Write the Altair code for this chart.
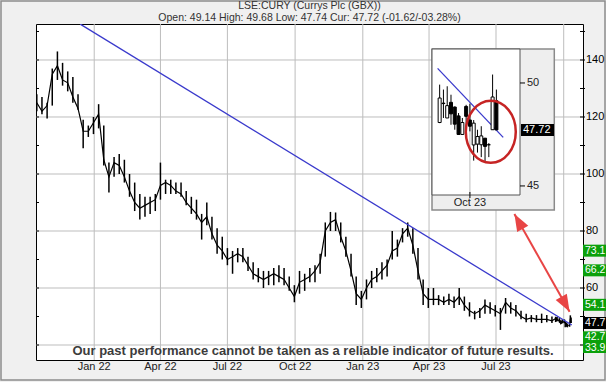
import altair as alt
import pandas as pd

W, H = 547, 336

# ---------------- data ----------------
week_dates = pd.date_range("2021-10-15", periods=101, freq="7D").strftime("%Y-%m-%d").tolist()
week_high = [128, 127, 125, 137, 143, 139, 136, 134, 128, 119,
             117, 120, 124.5, 117, 104, 106, 107, 105, 100, 97,
             93, 92, 92, 93, 104, 98, 98, 97, 97, 94,
             92, 91, 86, 90, 85, 81, 78, 74, 73, 74,
             74, 71, 69, 67, 66, 66, 67, 68, 67, 64,
             61, 66, 65, 67, 68, 72, 83, 86.7, 86.5, 83,
             78, 72, 64, 59, 63, 66, 67, 69, 70, 80,
             77, 81, 83, 81, 74, 63, 60, 60, 57.5, 57,
             58, 57, 60, 57, 55, 52, 53, 56, 55, 54,
             53, 56.5, 55, 54, 52, 51, 50.5, 50.5, 51, 50.5,
             50]
week_low = [122, 121, 119.5, 124, 133, 131, 129, 125, 122.5, 109,
            113, 114, 116, 103, 93.5, 99, 100, 97, 92, 87,
            84, 85, 86, 87, 91, 93, 93, 93, 92, 89,
            86, 84, 77, 82, 77, 72, 70, 68, 65, 69,
            69, 66, 63, 62, 60, 61, 61, 62, 61, 59,
            55, 58, 59, 62, 62, 65, 71, 80, 80, 76,
            71, 64, 54, 53, 56, 60, 62, 63, 64, 70,
            71, 76, 78, 72, 63, 54, 53, 54, 54, 54,
            54, 53, 54, 52, 50, 49, 49.5, 51, 51, 50,
            45.3, 51, 51, 50, 49, 48, 48, 48, 47.7, 48,
            47.7]
week_close = [125, 122, 124, 135, 138, 133, 132, 127, 123, 115,
              115, 118, 121, 105, 99, 104, 103, 99, 94, 90,
              88, 89, 90, 91, 96, 97, 96, 94, 93, 90,
              88, 86, 83, 85, 79, 75, 73, 70, 71, 72,
              71, 68, 65, 64, 63, 64, 65, 64, 63, 60,
              57, 62, 63, 64, 66, 69, 80, 83, 84, 78,
              73, 66, 58, 56, 60, 63, 64, 66, 68, 73,
              74, 79, 81, 75, 66, 58, 56, 56, 56, 55,
              56, 55, 57, 54, 52, 51, 52, 54, 53, 52,
              51, 55, 53, 52, 50, 49, 49.5, 49, 49, 49,
              48.5]

day_dates = ["2023-09-20", "2023-09-21", "2023-09-22", "2023-09-25", "2023-09-26",
             "2023-09-27", "2023-09-28", "2023-09-29", "2023-10-02", "2023-10-03",
             "2023-10-04", "2023-10-05", "2023-10-06", "2023-10-09", "2023-10-10",
             "2023-10-11"]
day_open = [48.08, 49.0, 48.3, 49.06, 48.83, 48.4, 47.5, 48.86, 48.2, 46.99,
            47.03, 47.0, 47.32, 47.0, 47.73, 49.14]
day_high = [49.92, 49.68, 49.84, 49.43, 48.86, 48.54, 48.3, 48.94, 48.99, 48.2,
            47.73, 47.9, 47.32, 47.08, 50.41, 49.68]
day_low = [48.05, 48.3, 48.3, 47.97, 47.73, 47.48, 47.48, 47.65, 47.65, 46.23,
           46.62, 46.4, 46.2, 46.4, 47.73, 47.74]
day_close = [49.27, 49.02, 48.9, 48.5, 48.0, 47.5, 48.08, 48.38, 47.9, 48.05,
             47.4, 47.43, 46.92, 47.0, 49.32, 47.72]

trend_dates = ["2021-12-13", "2023-10-12"]
trend_values = [152.6, 47.0]

inset_trend_idx = [-0.54, 16.8]
inset_trend_values = [50.71, 47.36]
inset_circle_idx = [13.52]
inset_circle_value = [47.63]

grid_dates = ["2022-01-01", "2022-04-01", "2022-07-01", "2022-10-01",
              "2023-01-01", "2023-04-01", "2023-07-01", "2023-10-01"]
month_dates = grid_dates[:7]
month_labels = ["Jan 22", "Apr 22", "Jul 22", "Oct 22", "Jan 23", "Apr 23", "Jul 23"]
grid_values = [40, 60, 80, 100, 120, 140]
axis_label_values = [60, 80, 100, 120, 140]
tick_values = [40, 50, 60, 70, 80, 90, 100, 110, 120, 130, 140, 150]

level_values = [73.1, 66.2, 54.1, 42.7]
level_texts = ["73.1", "66.2", "54.1", "42.7"]
current_value = [47.72]
current_text_main = ["47.7"]
current_text_inset = ["47.72"]
bottom_level_text = ["33.9"]

arrow_dates = ["2023-07-26", "2023-10-09"]
arrow_values = [85.96, 51.68]
arrow_angles = [330.7, 150.7]

inset_tick_values = [50, 45]
inset_tick_texts = ["50", "45"]

title_text = "LSE:CURY (Currys Plc (GBX))"
subtitle_text = "Open: 49.14 High: 49.68 Low: 47.74 Cur: 47.72 (-01.62/-03.28%)"
disclaimer_text = "Our past performance cannot be taken as a reliable indicator of future results."

# ---------------- tables ----------------
price_df = pd.DataFrame({
    "date": week_dates + day_dates,
    "high": week_high + day_high,
    "low": week_low + day_low,
    "close": week_close + day_close,
})
candles_df = pd.DataFrame({
    "i": list(range(len(day_dates))),
    "open": day_open, "high": day_high, "low": day_low, "close": day_close,
})

def ms(s):
    return int(pd.Timestamp(s).value // 10**6)

xs = alt.Scale(type="utc", domain=[ms("2021-10-13T21:40:00Z"), ms("2023-10-27T05:00:00Z")])
ys = alt.Scale(domain=[34.74, 152.63], nice=False, zero=False)
one = pd.DataFrame({"a": [0]})

FONT = "Liberation Sans"
GRID = "#bdbdbd"
GREEN = "#0ba00b"

def X(field):
    return alt.X(field, type="temporal", scale=xs, axis=None)

def Y(field):
    return alt.Y(field, type="quantitative", scale=ys, axis=None)

vgrid = alt.Chart(pd.DataFrame({"d": grid_dates})).mark_rule(color=GRID, strokeWidth=1).encode(x=X("d"))
hgrid = alt.Chart(pd.DataFrame({"v": grid_values})).mark_rule(color=GRID, strokeWidth=1).encode(y=Y("v"))
lticks = alt.Chart(pd.DataFrame({"v": tick_values})).mark_rule(color="#000").encode(
    y=Y("v"), x=alt.value(0), x2=alt.value(3))
rticks = alt.Chart(pd.DataFrame({"v": tick_values})).mark_rule(color="#000").encode(
    y=Y("v"), x=alt.value(W - 3), x2=alt.value(W + 2))
rlabels = alt.Chart(pd.DataFrame({"v": axis_label_values})).mark_text(
    align="left", baseline="middle", font=FONT, fontSize=11, color="#000").encode(
    y=Y("v"), x=alt.value(W + 3), text=alt.Text("v:Q"))

bars = alt.Chart(price_df).mark_rule(color="#000", strokeWidth=1.5).encode(
    x=X("date"), y=Y("low"), y2="high")
closes = alt.Chart(price_df).mark_line(color="#000", strokeWidth=1.2).encode(
    x=X("date"), y=Y("close"))
trend = alt.Chart(pd.DataFrame({"d": trend_dates, "v": trend_values})).mark_line(
    color="#3a3acc", strokeWidth=1.3, clip=True).encode(x=X("d"), y=Y("v"))

lvl_df = pd.DataFrame({"v": level_values, "t": level_texts})
lvl_box = alt.Chart(lvl_df).mark_rect(color=GREEN, yOffset=-6, y2Offset=6).encode(
    y=Y("v"), y2="v", x=alt.value(W), x2=alt.value(W + 30))
lvl_txt = alt.Chart(lvl_df).mark_text(align="left", baseline="middle", font=FONT,
                                      fontSize=10.5, color="white").encode(
    y=Y("v"), x=alt.value(W + 2), text="t:N")
cur_df = pd.DataFrame({"v": current_value, "t": current_text_main})
cur_box = alt.Chart(cur_df).mark_rect(color="#000", yOffset=-6, y2Offset=6).encode(
    y=Y("v"), y2="v", x=alt.value(W), x2=alt.value(W + 30))
cur_txt = alt.Chart(cur_df).mark_text(align="left", baseline="middle", font=FONT,
                                      fontSize=10.5, color="white").encode(
    y=Y("v"), x=alt.value(W + 2), text="t:N")
bot_box = alt.Chart(one).mark_rect(color=GREEN).encode(
    y=alt.value(H - 18), y2=alt.value(H - 7), x=alt.value(W), x2=alt.value(W + 30))
bot_txt = alt.Chart(pd.DataFrame({"t": bottom_level_text})).mark_text(
    align="left", baseline="middle", font=FONT, fontSize=10.5, color="white").encode(
    y=alt.value(H - 12), x=alt.value(W + 2), text="t:N")

months = alt.Chart(pd.DataFrame({"d": month_dates, "t": month_labels})).mark_text(
    baseline="middle", font=FONT, fontSize=11, color="#222").encode(
    x=X("d"), y=alt.value(H + 7), text="t:N")

header = alt.Chart(pd.DataFrame({"t": [title_text, subtitle_text], "yy": [-18, -6]})).mark_text(
    baseline="middle", font=FONT, fontSize=10.5, color="#333").encode(
    x=alt.value(273.5), y=alt.Y("yy:Q", scale=None, axis=None), text="t:N")

disclaimer = alt.Chart(pd.DataFrame({"t": [disclaimer_text]})).mark_text(
    baseline="middle", font=FONT, fontSize=13, fontWeight="bold", color="#3c3c3c").encode(
    x=alt.value(277), y=alt.value(327), text="t:N")

arrow_df = pd.DataFrame({"d": arrow_dates, "v": arrow_values, "ang": arrow_angles})
arrow_line = alt.Chart(arrow_df).mark_line(color="#e84545", strokeWidth=2).encode(
    x=X("d"), y=Y("v"))
arrow_heads = alt.Chart(arrow_df).mark_point(
    shape="M0,0 L0.75,2 L-0.75,2 Z", filled=True, color="#e84545", opacity=1, size=289).encode(
    x=X("d"), y=Y("v"), angle=alt.Angle("ang:Q", scale=None))

border = alt.Chart(one).mark_rect(fill=None, stroke="#8c8c8c", strokeWidth=1.5).encode(
    x=alt.value(-35), x2=alt.value(W + 22), y=alt.value(-23), y2=alt.value(H + 20))

main = alt.layer(border, vgrid, hgrid, lticks, rticks, rlabels, bars, closes, trend,
                 lvl_box, lvl_txt, cur_box, cur_txt, bot_box, bot_txt, months, header,
                 disclaimer)

# ---------------- inset ----------------
ixs = alt.Scale(domain=[-0.70, 19.92], range=[396, 484], nice=False, zero=False)
iys = alt.Scale(domain=[44.56, 51.65], range=[171, 25], nice=False, zero=False)

def IX(field):
    return alt.X(field, type="quantitative", scale=ixs, axis=None)

def IY(field):
    return alt.Y(field, type="quantitative", scale=iys, axis=None)

panel = alt.Chart(one).mark_rect(fill="#eeeeee", stroke="#8a8a8a", strokeWidth=1.5).encode(
    x=alt.value(396), x2=alt.value(518.3), y=alt.value(25), y2=alt.value(186))
white = alt.Chart(one).mark_rect(fill="white", stroke="#555", strokeWidth=1).encode(
    x=alt.value(396), x2=alt.value(484), y=alt.value(25), y2=alt.value(171))
igrid = alt.Chart(pd.DataFrame({"i": [8]})).mark_rule(color=GRID).encode(
    x=IX("i"), y=alt.value(25), y2=alt.value(171))
itick_b = alt.Chart(pd.DataFrame({"i": [8]})).mark_rule(color="#000").encode(
    x=IX("i"), y=alt.value(168), y2=alt.value(174))
ilabel_b = alt.Chart(pd.DataFrame({"i": [8], "t": ["Oct 23"]})).mark_text(
    baseline="middle", font=FONT, fontSize=11, color="#222").encode(
    x=IX("i"), y=alt.value(178.7), text="t:N")
itr = alt.Chart(pd.DataFrame({"i": inset_trend_idx, "v": inset_trend_values})).mark_line(
    color="#3a3acc", strokeWidth=1.3).encode(x=IX("i"), y=IY("v"))
wicks = alt.Chart(candles_df).mark_rule(color="#000", strokeWidth=1).encode(
    x=IX("i"), y=IY("low"), y2="high")
bodies = alt.Chart(candles_df).mark_bar(size=3, stroke="#000", strokeWidth=1).encode(
    x=IX("i"), y=IY("open"), y2="close",
    fill=alt.condition("datum.close >= datum.open", alt.value("white"), alt.value("black")))
circle = alt.Chart(pd.DataFrame({"i": inset_circle_idx, "v": inset_circle_value})).mark_point(
    shape="M -0.806,0 A 0.806,1 0 1,1 0.806,0 A 0.806,1 0 1,1 -0.806,0 Z",
    filled=False, stroke="#c62424", strokeWidth=2.5, opacity=1, size=3844).encode(
    x=IX("i"), y=IY("v"))
ity_df = pd.DataFrame({"v": inset_tick_values, "t": inset_tick_texts})
itick_r = alt.Chart(ity_df).mark_rule(color="#000").encode(
    y=IY("v"), x=alt.value(484), x2=alt.value(489))
ilabel_r = alt.Chart(ity_df).mark_text(align="left", baseline="middle", font=FONT,
                                        fontSize=11, color="#222").encode(
    y=IY("v"), x=alt.value(491), text="t:N")
icur_df = pd.DataFrame({"v": current_value, "t": current_text_inset})
icur_box = alt.Chart(icur_df).mark_rect(color="#000", yOffset=-6, y2Offset=6).encode(
    y=IY("v"), y2="v", x=alt.value(485), x2=alt.value(518))
icur_txt = alt.Chart(icur_df).mark_text(align="left", baseline="middle", font=FONT,
                                        fontSize=11, color="white").encode(
    y=IY("v"), x=alt.value(487), text="t:N")

inset = alt.layer(panel, white, igrid, itick_b, ilabel_b, itr, wicks, bodies, circle,
                  itick_r, ilabel_r, icur_box, icur_txt)

chart = alt.layer(main, inset, arrow_line, arrow_heads).resolve_scale(
    x="independent", y="independent"
).properties(
    width=W, height=H, background="#f0f0f0",
    padding={"left": 36, "top": 24, "right": 23, "bottom": 22},
    autosize=alt.AutoSizeParams(type="none"),
).configure_view(fill="white", stroke="#000", strokeWidth=1)

chart.save("out.html", embed_options={"renderer": "svg", "actions": False})
